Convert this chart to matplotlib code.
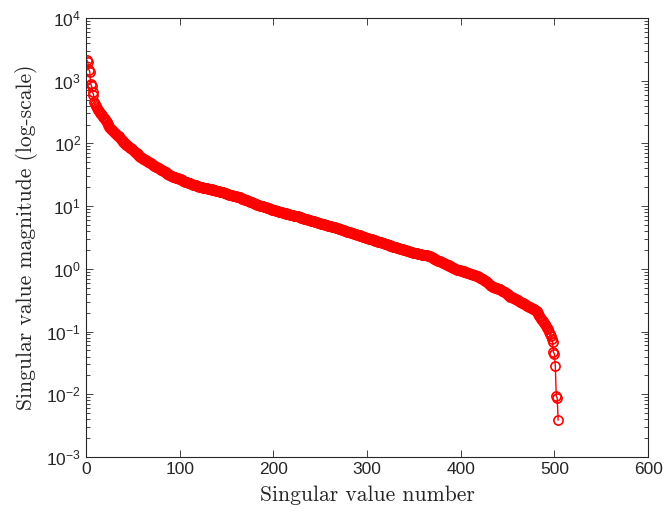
import numpy as np
import matplotlib
matplotlib.use("Agg")
import matplotlib.pyplot as plt
from matplotlib.ticker import LogLocator, FixedLocator, NullLocator

plt.rcParams['mathtext.default'] = 'regular'
plt.rcParams['font.family'] = ['Liberation Sans', 'DejaVu Sans']

singular_values = [
    2100, 2000, 1500, 1400, 900, 820, 650, 600, 450, 420,
    390, 365, 345, 325, 305, 292, 280, 268, 255, 242,
    230, 218, 205, 195, 185, 176, 168, 162, 156, 150,
    145, 141, 137, 133, 129, 124, 119, 114, 110, 106, 103, 100,
    96, 93, 90, 87, 85, 83, 80, 78,
    75, 73, 71, 69, 67, 65, 63, 61,
    60, 58.5, 57, 56, 55, 53.5, 52,
    50.9, 49.9, 48.9, 47.9, 46.9, 45.9, 45.0, 44.1, 43.2, 42.3,
    41.4, 40.6, 39.8, 39.0, 38.2, 37.4, 36.6, 35.9, 35.2, 34.5,
    33.8, 33.1, 32.4, 31.7, 31.0,
    30.5, 30, 29.6, 29.2, 28.8, 28.4, 28, 27.7, 27.3, 27,
    26.6, 26.2, 25.8, 25.4, 25, 24.6, 24.3, 24, 23.6, 23.3, 23,
    22.7, 22.4, 22.1, 21.9, 21.6, 21.4, 21.2, 21, 20.8, 20.5, 20.3,
    20.1, 19.9, 19.8, 19.6, 19.5, 19.3, 19.2, 19.0, 18.9, 18.7,
    18.6, 18.4, 18.3, 18.1, 18.0, 17.8, 17.7, 17.5, 17.4, 17.2, 17.0,
    16.8, 16.6, 16.5, 16.3, 16.1, 15.9, 15.8, 15.6, 15.4, 15.3,
    15.1, 15.0, 14.8, 14.7, 14.5, 14.4, 14.3, 14.2, 14.0, 13.9, 13.8,
    13.6, 13.4, 13.2, 13.0, 12.8, 12.6, 12.4, 12.3, 12.1, 11.9,
    11.8, 11.6, 11.5, 11.3, 11.1, 11.0, 10.8, 10.7, 10.6, 10.5, 10.3, 10.2,
    10.1, 9.99, 9.87, 9.76, 9.65, 9.54, 9.43, 9.32, 9.21, 9.11,
    9.0, 8.9, 8.8, 8.7, 8.62, 8.54, 8.46, 8.38, 8.3, 8.2, 8.1,
    8.03, 7.96, 7.89, 7.82, 7.75, 7.68, 7.61, 7.54, 7.47, 7.41,
    7.34, 7.27, 7.2, 7.14, 7.08, 7.02, 6.96, 6.9, 6.84, 6.78, 6.7,
    6.62, 6.55, 6.48, 6.41, 6.34, 6.27, 6.2, 6.12, 6.04, 5.96,
    5.9, 5.84, 5.79, 5.74, 5.69, 5.64, 5.59, 5.54, 5.49, 5.44, 5.37, 5.3,
    5.25, 5.2, 5.15, 5.1, 5.05, 5.0, 4.95, 4.9, 4.86, 4.82,
    4.78, 4.74, 4.7, 4.66, 4.62, 4.57, 4.52, 4.47, 4.42, 4.36, 4.3,
    4.25, 4.2, 4.16, 4.11, 4.06, 4.02, 3.97, 3.93, 3.88, 3.84,
    3.8, 3.76, 3.72, 3.68, 3.64, 3.6, 3.56, 3.52, 3.48, 3.44,
    3.4, 3.36, 3.33, 3.29, 3.25, 3.22, 3.18, 3.14, 3.11, 3.07, 3.04, 3.0,
    2.97, 2.94, 2.9, 2.87, 2.84, 2.81, 2.78, 2.75, 2.72, 2.69,
    2.66, 2.63, 2.6, 2.57, 2.54, 2.51, 2.48, 2.45, 2.42, 2.39,
    2.36, 2.34, 2.31, 2.29, 2.26, 2.24, 2.21, 2.19, 2.16, 2.14, 2.12, 2.1,
    2.08, 2.06, 2.04, 2.02, 2.0, 1.98, 1.96, 1.94, 1.92, 1.9,
    1.88, 1.86, 1.84, 1.82, 1.8, 1.79, 1.77, 1.76, 1.74, 1.73,
    1.72, 1.71, 1.7, 1.69, 1.68, 1.67, 1.66, 1.65, 1.64, 1.63, 1.615, 1.6,
    1.57, 1.54, 1.51, 1.48, 1.45, 1.42, 1.39, 1.37, 1.35, 1.33,
    1.31, 1.29, 1.27, 1.25, 1.23, 1.21, 1.19, 1.17, 1.15, 1.13,
    1.11, 1.09, 1.07, 1.05, 1.04, 1.02, 1.0, 0.985, 0.97, 0.96, 0.955, 0.95,
    0.94, 0.93, 0.92, 0.91, 0.9, 0.89, 0.88, 0.87, 0.86, 0.85,
    0.84, 0.83, 0.82, 0.81, 0.8, 0.79, 0.78, 0.77, 0.76, 0.75, 0.74,
    0.725, 0.71, 0.695, 0.68, 0.665, 0.65, 0.63, 0.61, 0.59, 0.57,
    0.555, 0.54, 0.53, 0.52, 0.51, 0.505, 0.5, 0.495, 0.49, 0.485, 0.478, 0.47,
    0.46, 0.45, 0.44, 0.43, 0.42, 0.41, 0.4, 0.39, 0.38, 0.37,
    0.36, 0.355, 0.35, 0.345, 0.34, 0.335, 0.33, 0.32, 0.315, 0.31, 0.30,
    0.295, 0.29, 0.285, 0.28, 0.275, 0.27, 0.265, 0.26, 0.255, 0.25,
    0.245, 0.24, 0.235, 0.23, 0.225, 0.22, 0.215, 0.21,
    0.2, 0.19, 0.18, 0.17, 0.16, 0.152, 0.145, 0.138, 0.13, 0.122,
    0.115, 0.108, 0.1, 0.093, 0.085, 0.077, 0.068,
    0.047, 0.044, 0.028, 0.0093, 0.0088, 0.0039,
]
sv_number = list(range(1, len(singular_values) + 1))

x_ticks = [0, 100, 200, 300, 400, 500, 600]
x_label = "Singular value number"
y_label = "Singular value magnitude (log-scale)"

fig = plt.figure(figsize=(6.64, 5.13), dpi=100)
ax = fig.add_axes([0.1295, 0.1092, 0.8465, 0.8558])

ax.semilogy(sv_number, singular_values, color='red', linewidth=1.0,
            marker='o', markersize=6.6, markerfacecolor='none',
            markeredgecolor='red', markeredgewidth=1.2)

ax.set_xlim(0, 600)
ax.set_ylim(1e-3, 1e4)
ax.xaxis.set_major_locator(FixedLocator(x_ticks))
ax.xaxis.set_minor_locator(NullLocator())
ax.yaxis.set_major_locator(LogLocator(base=10, numticks=20))
ax.yaxis.set_minor_locator(LogLocator(base=10, subs=np.arange(2, 10), numticks=20))

axis_col = '#262626'
for s in ax.spines.values():
    s.set_color(axis_col)
    s.set_linewidth(0.8)
ax.tick_params(which='both', direction='in', top=True, right=True,
               color=axis_col, labelcolor=axis_col, width=0.6)
ax.tick_params(which='major', length=5, labelsize=12.5)
ax.tick_params(which='minor', length=2.8)

ax.set_xlabel(x_label, family='cmr10', fontsize=15.5, color=axis_col, labelpad=6)
ax.set_ylabel(y_label, family='cmr10', fontsize=15.5, color=axis_col, labelpad=6)

fig.savefig("out.png", dpi=100)
